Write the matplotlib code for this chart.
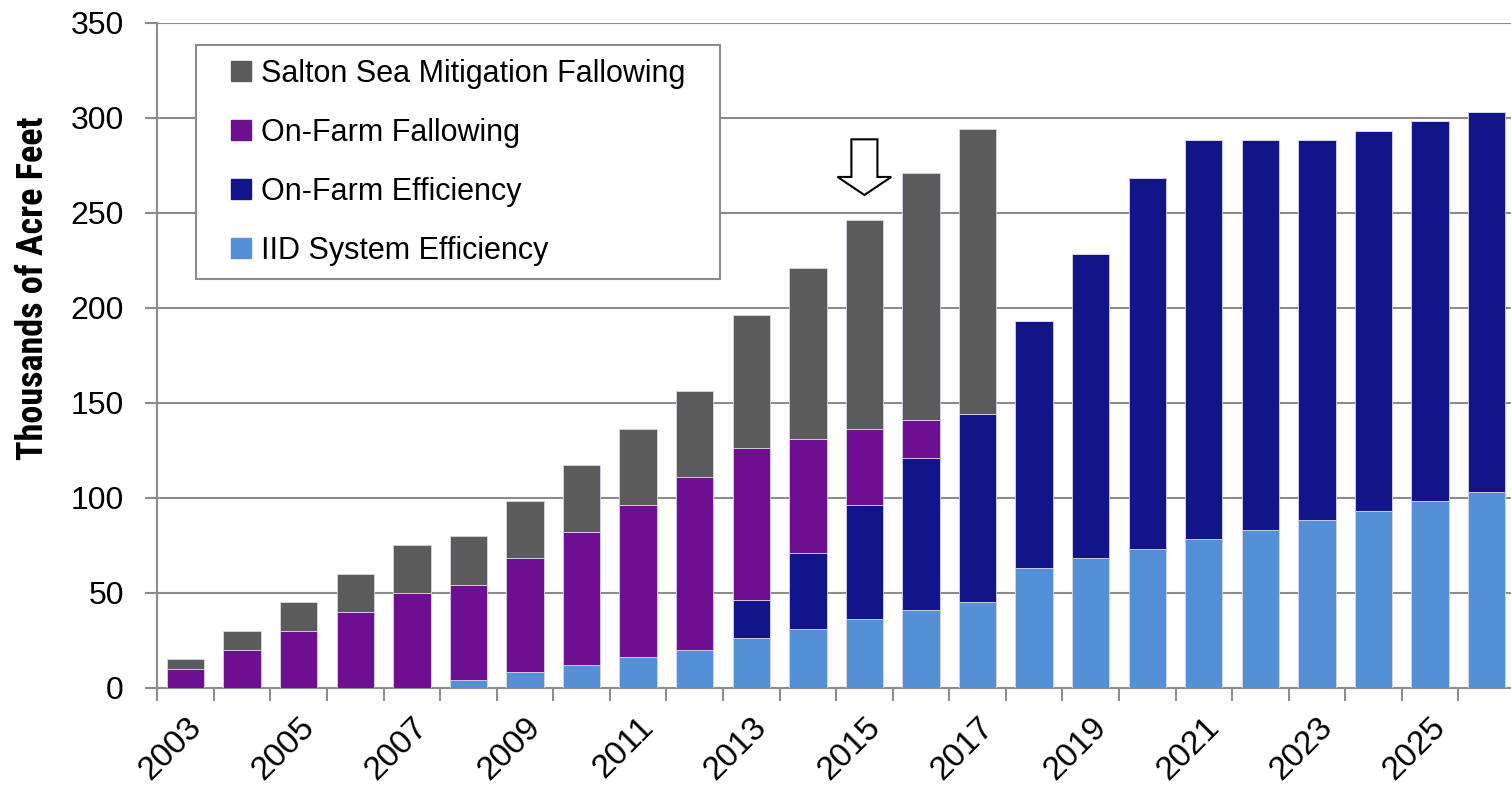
import numpy as np
import matplotlib
matplotlib.use("Agg")
import matplotlib.pyplot as plt
from matplotlib.patches import FancyArrow
from matplotlib.lines import Line2D
from matplotlib.transforms import ScaledTranslation
from matplotlib.font_manager import fontManager

years = list(range(2003, 2027))

# thousands of acre-feet per program, stacked bottom to top
iid_system = [0, 0, 0, 0, 0, 4, 8, 12, 16, 20, 26, 31, 36, 41, 45,
              63, 68, 73, 78, 83, 88, 93, 98, 103]
onfarm_eff = [0, 0, 0, 0, 0, 0, 0, 0, 0, 0, 20, 40, 60, 80, 99,
              130, 160, 195, 210, 205, 200, 200, 200, 200]
onfarm_fallow = [10, 20, 30, 40, 50, 50, 60, 70, 80, 91, 80, 60, 40, 20, 0,
                 0, 0, 0, 0, 0, 0, 0, 0, 0]
salton_fallow = [5, 10, 15, 20, 25, 26, 30, 35, 40, 45, 70, 90, 110, 130, 150,
                 0, 0, 0, 0, 0, 0, 0, 0, 0]

series = [
    ("IID System Efficiency", iid_system, "#558fd6"),
    ("On-Farm Efficiency", onfarm_eff, "#12158a"),
    ("On-Farm Fallowing", onfarm_fallow, "#6e0f91"),
    ("Salton Sea Mitigation Fallowing", salton_fallow, "#5b5b5b"),
]

marked_year = 2015

# narrow bold face for the axis title if one is around
installed = {f.name for f in fontManager.ttflist}
narrow = None
for cand in ["Liberation Sans Narrow", "Arial Narrow", "Roboto Condensed",
             "Open Sans Condensed", "DejaVu Sans Condensed"]:
    if cand in installed:
        narrow = cand
        break
plt.rcParams["font.family"] = ["Liberation Sans", "DejaVu Sans"]

fig = plt.figure(figsize=(15.11, 7.87), dpi=100)
ax = fig.add_axes([0.1041, 0.1262, 0.8959, 0.845])

x = np.arange(len(years))
bottom = np.zeros(len(years))
for name, vals, col in series:
    vals = np.array(vals, dtype=float)
    ax.bar(x, vals, width=0.66, bottom=bottom, color=col,
           edgecolor="#d6d6e6", linewidth=0.6, label=name, zorder=3)
    bottom += vals

ax.set_xlim(-0.5, 23.43)
ax.set_ylim(0, 350)
ax.set_yticks(np.arange(0, 351, 50))
ax.yaxis.grid(True, color="#8c8c8c", linewidth=1.5, zorder=0)
ax.set_axisbelow(True)

# category boundaries get tick marks, every other year gets a label
ax.set_xticks(x - 0.5, minor=False)
ax.set_xticklabels([])
ax.set_xticks(x[::2], minor=True)
ax.set_xticklabels([str(y) for y in years[::2]], minor=True, rotation=45,
                   ha="right", va="top", rotation_mode="anchor", fontsize=24)
shift = ScaledTranslation(-7 / 100, 0, fig.dpi_scale_trans)
for lab in ax.get_xticklabels(minor=True):
    lab.set_transform(lab.get_transform() + shift)
ax.tick_params(axis="x", which="minor", length=0, pad=17)
ax.tick_params(axis="x", which="major", length=9, width=1.5, color="#8c8c8c",
               direction="out")
ax.tick_params(axis="y", length=9, width=1.5, color="#8c8c8c", pad=15,
               labelsize=23)

for s in ("top", "right"):
    ax.spines[s].set_visible(False)
for s in ("left", "bottom"):
    ax.spines[s].set_color("#8c8c8c")
    ax.spines[s].set_linewidth(1.5)

if narrow:
    ax.set_ylabel("Thousands of Acre Feet", fontsize=26, fontweight="bold",
                  family=narrow)
else:
    ax.set_ylabel("Thousands of Acre Feet", fontsize=22, fontweight="bold")
ax.yaxis.set_label_coords(-0.0786, 0.60)

# hollow arrow pointing at the current year
xi = years.index(marked_year)
arrow = FancyArrow(xi, 288.6, 0, -29.3, width=0.46, head_width=0.95,
                   head_length=9.5, length_includes_head=True,
                   facecolor="white", edgecolor="black", linewidth=1.5, zorder=5)
ax.add_patch(arrow)

handles = [Line2D([], [], linestyle="none", marker="s", markersize=14.5,
                  markerfacecolor=c, markeredgecolor=c) for _, _, c in series]
labels = [s[0] for s in series]
leg = ax.legend(handles[::-1], labels[::-1], loc="upper left",
                bbox_to_anchor=(0.0286, 0.966, 0.387, 0.0), mode="expand",
                fontsize=22, frameon=True, fancybox=False, edgecolor="#8c8c8c",
                handlelength=2.09, handletextpad=-0.39, labelspacing=0.95,
                borderpad=0.44, borderaxespad=0, framealpha=1)
leg.get_frame().set_linewidth(1.5)
leg.set_zorder(6)

fig.savefig("out.png", dpi=100)
